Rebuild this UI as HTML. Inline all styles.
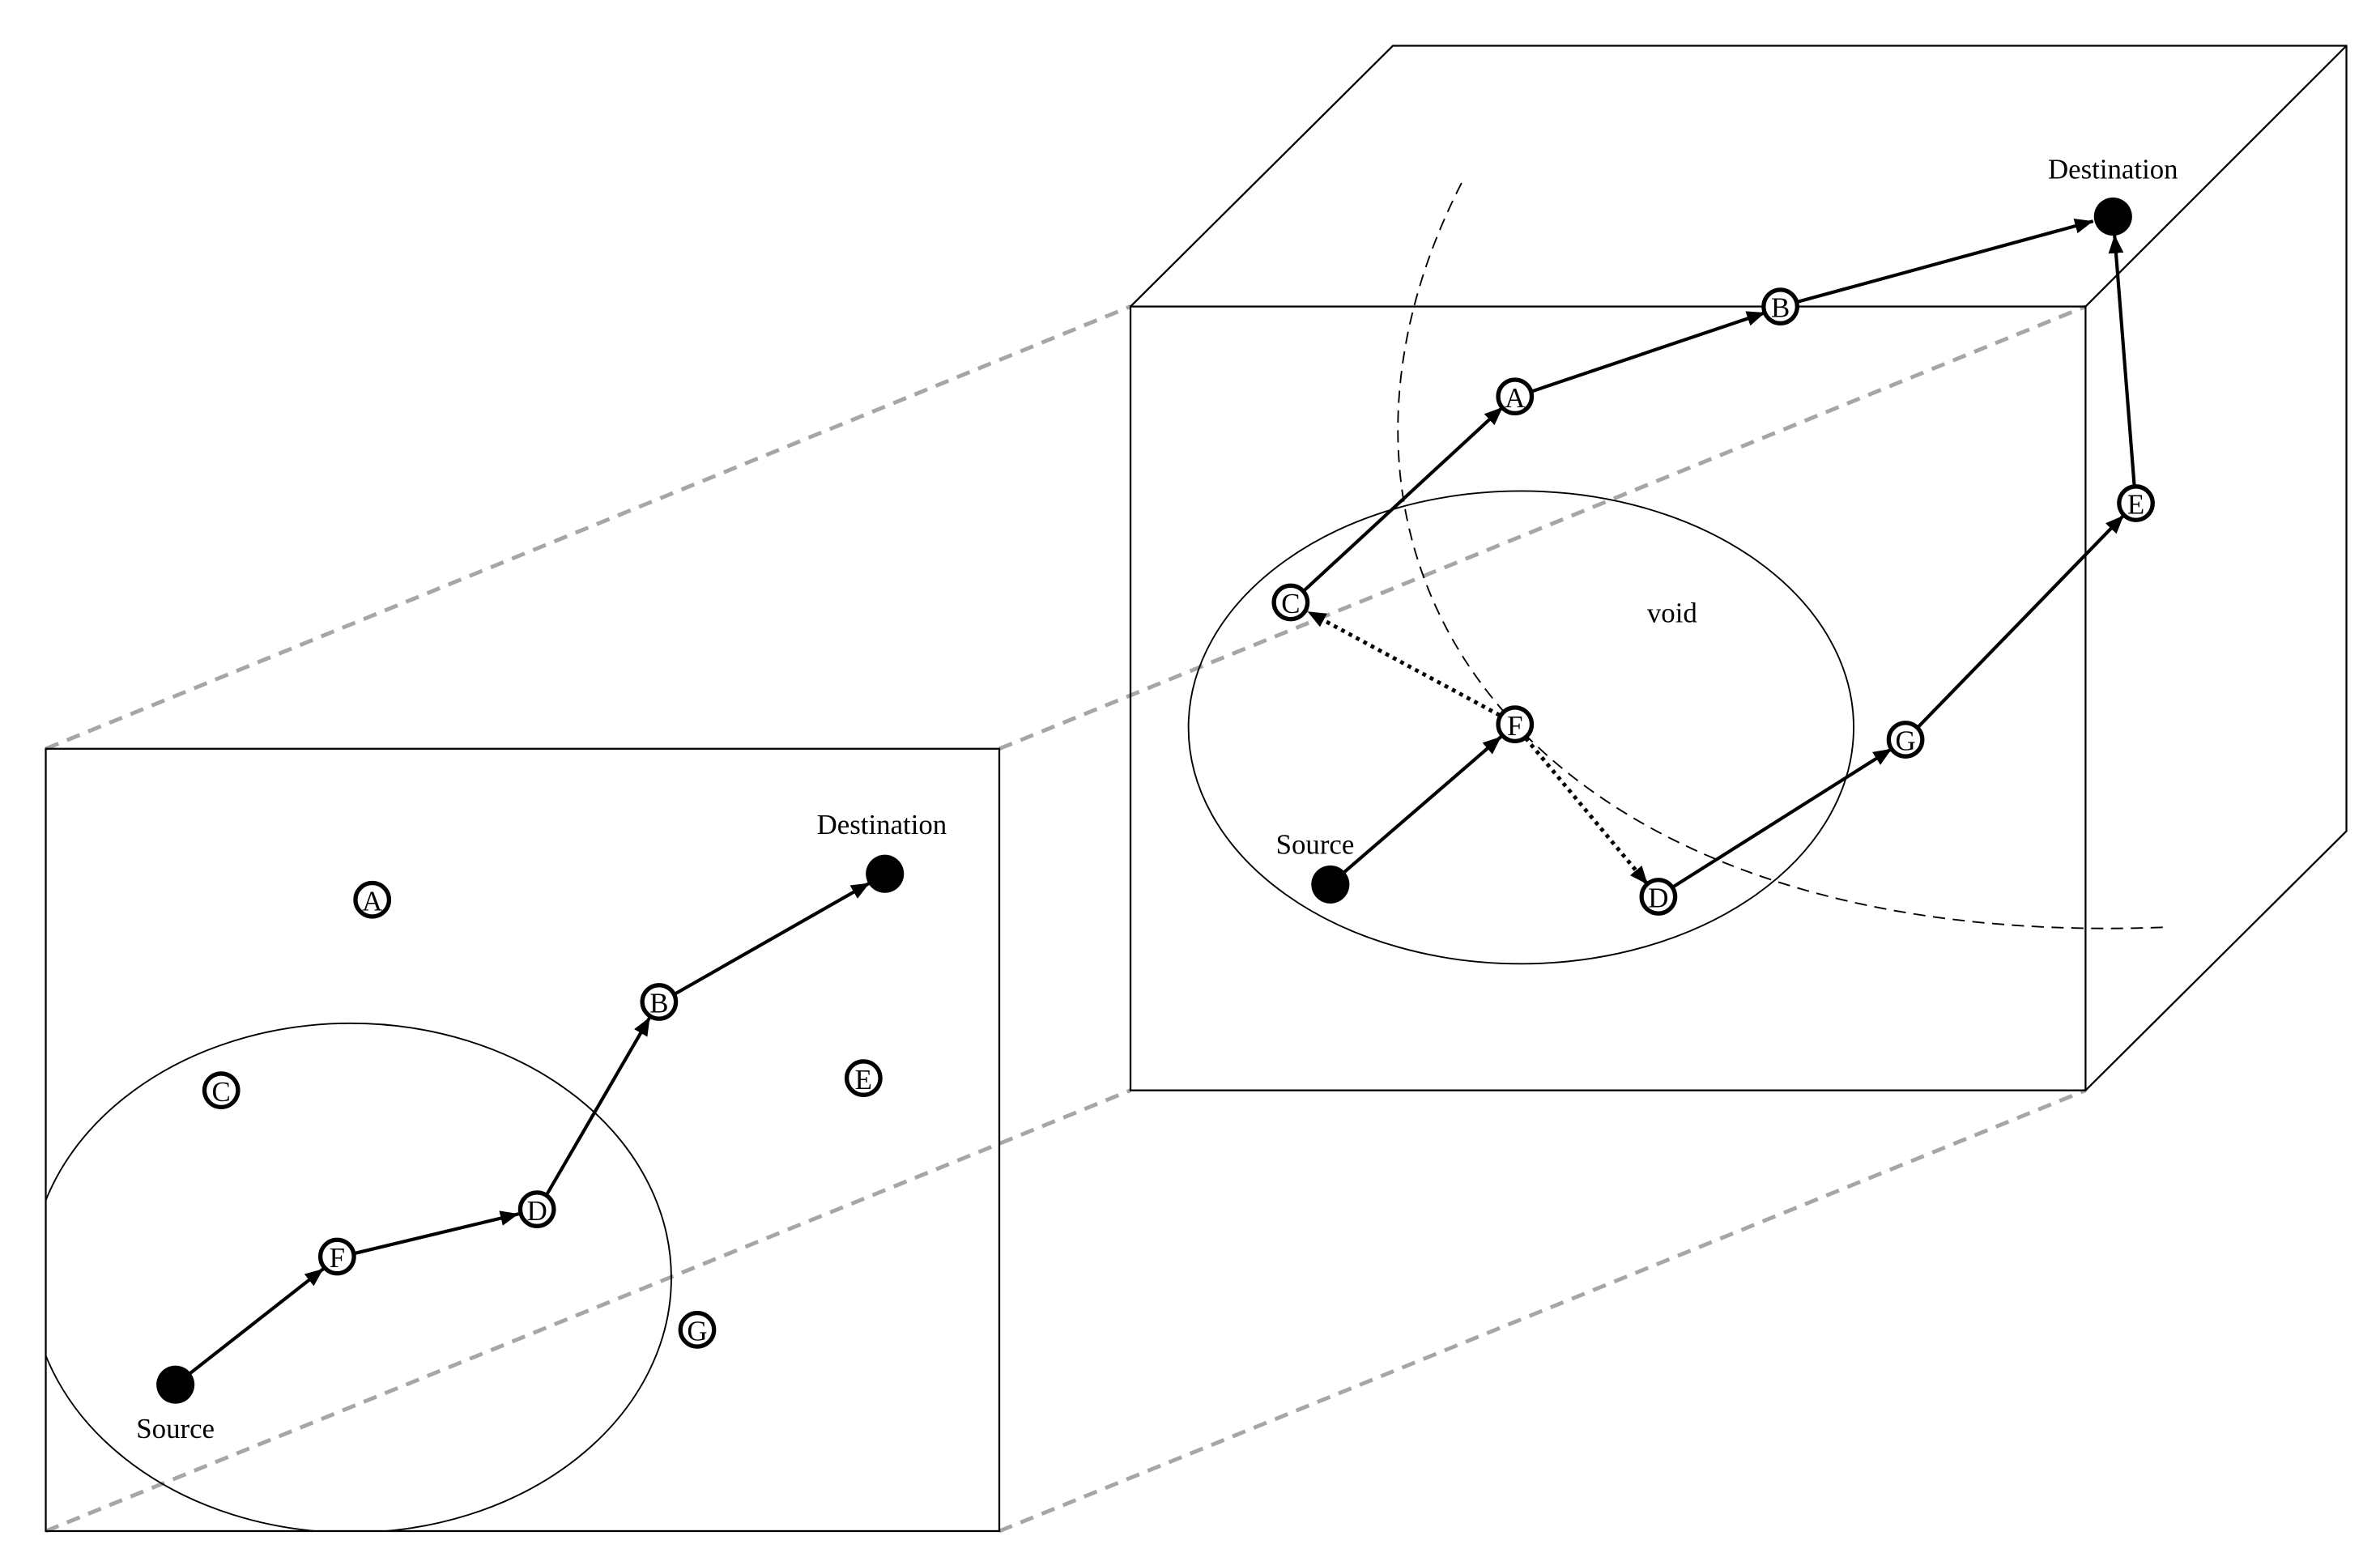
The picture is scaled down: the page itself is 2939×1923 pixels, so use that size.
<!DOCTYPE html>
<html><head><meta charset="utf-8"><style>
html,body{margin:0;padding:0;background:#fff;}
svg{display:block;}
text{font-family:"Liberation Serif",serif;fill:#000;}
</style></head><body>
<svg width="2939" height="1923" viewBox="0 0 1560 1021" preserveAspectRatio="none" xmlns="http://www.w3.org/2000/svg">
<defs>
<marker id="ah" markerUnits="userSpaceOnUse" markerWidth="14" markerHeight="10" refX="12" refY="5" orient="auto">
<path d="M0,0 L12,5 L0,10 Z" fill="#000"/>
</marker>
<clipPath id="lb"><rect x="30" y="491" width="625" height="513"/></clipPath>
</defs>
<rect width="1560" height="1021" fill="#fff"/>
<g stroke="#a6a6a6" stroke-width="2.6" stroke-dasharray="9,6" fill="none">
<line x1="30" y1="491" x2="741" y2="201"/>
<line x1="655" y1="491" x2="1367" y2="201"/>
<line x1="30" y1="1004" x2="741" y2="715"/>
<line x1="655" y1="1004" x2="1367" y2="715"/>
</g>
<rect x="30" y="491" width="625" height="513" fill="none" stroke="#000" stroke-width="1.2"/>
<ellipse cx="230" cy="838" rx="210" ry="167" fill="none" stroke="#000" stroke-width="1" clip-path="url(#lb)"/>
<g fill="none" stroke="#000" stroke-width="1.2">
<rect x="741" y="201" width="626" height="514"/>
<polyline points="741,201 913,30 1538,30 1538,545 1367,715"/>
<line x1="1367" y1="201" x2="1538" y2="30"/>
</g>
<ellipse cx="997" cy="477" rx="218" ry="155" fill="none" stroke="#000" stroke-width="1"/>
<path d="M958,120 C830,370 1000,625 1420,608" fill="none" stroke="#000" stroke-width="1" stroke-dasharray="8,5"/>
<g stroke="#000" stroke-width="2.2" marker-end="url(#ah)">
<line x1="124" y1="901" x2="212" y2="832"/>
<line x1="232" y1="822" x2="340" y2="796"/>
<line x1="358" y1="784" x2="426" y2="667"/>
<line x1="442" y1="652" x2="570" y2="579"/>
</g>
<g stroke="#000" stroke-width="2.2" marker-end="url(#ah)">
<line x1="881" y1="572" x2="984" y2="483"/>
<line x1="854" y1="388" x2="985" y2="267"/>
<line x1="1003" y1="257" x2="1157" y2="205"/>
<line x1="1178" y1="198" x2="1372" y2="145"/>
<line x1="1096" y1="582" x2="1240" y2="491"/>
<line x1="1257" y1="477" x2="1392" y2="338"/>
<line x1="1399" y1="319" x2="1386" y2="154"/>
</g>
<g stroke="#000" stroke-width="2.6" stroke-dasharray="2.5,3" marker-end="url(#ah)">
<line x1="983" y1="469" x2="857" y2="401"/>
<line x1="1000" y1="484" x2="1080" y2="580"/>
</g>
<g fill="#000">
<circle cx="115" cy="908" r="12.5"/>
<circle cx="580" cy="573" r="12.5"/>
<circle cx="872" cy="580" r="12.5"/>
<circle cx="1385" cy="142" r="12.5"/>
</g>
<g fill="#fff" stroke="#000" stroke-width="2.8">
<circle cx="244" cy="590" r="11"/>
<circle cx="145" cy="715" r="11"/>
<circle cx="566" cy="707" r="11"/>
<circle cx="457" cy="872" r="11"/>
<circle cx="432" cy="657" r="11"/>
<circle cx="352" cy="793" r="11"/>
<circle cx="221" cy="824" r="11"/>
<circle cx="993" cy="260" r="11"/>
<circle cx="1167" cy="201" r="11"/>
<circle cx="846" cy="395" r="11"/>
<circle cx="993" cy="475" r="11"/>
<circle cx="1087" cy="588" r="11"/>
<circle cx="1249" cy="485" r="11"/>
<circle cx="1400" cy="330" r="11"/>
</g>
<g font-size="18.5" text-anchor="middle">
<text x="244" y="597">A</text>
<text x="145" y="722">C</text>
<text x="566" y="714">E</text>
<text x="457" y="879">G</text>
<text x="432" y="664">B</text>
<text x="352" y="800">D</text>
<text x="221" y="831">F</text>
<text x="993" y="267">A</text>
<text x="1167" y="208">B</text>
<text x="846" y="402">C</text>
<text x="993" y="482">F</text>
<text x="1087" y="595">D</text>
<text x="1249" y="492">G</text>
<text x="1400" y="337">E</text>
</g>
<g font-size="18.5" text-anchor="middle">
<text x="578" y="547">Destination</text>
<text x="115" y="943">Source</text>
<text x="1385" y="117">Destination</text>
<text x="862" y="560">Source</text>
<text x="1096" y="408">void</text>
</g>
</svg>
</body></html>
